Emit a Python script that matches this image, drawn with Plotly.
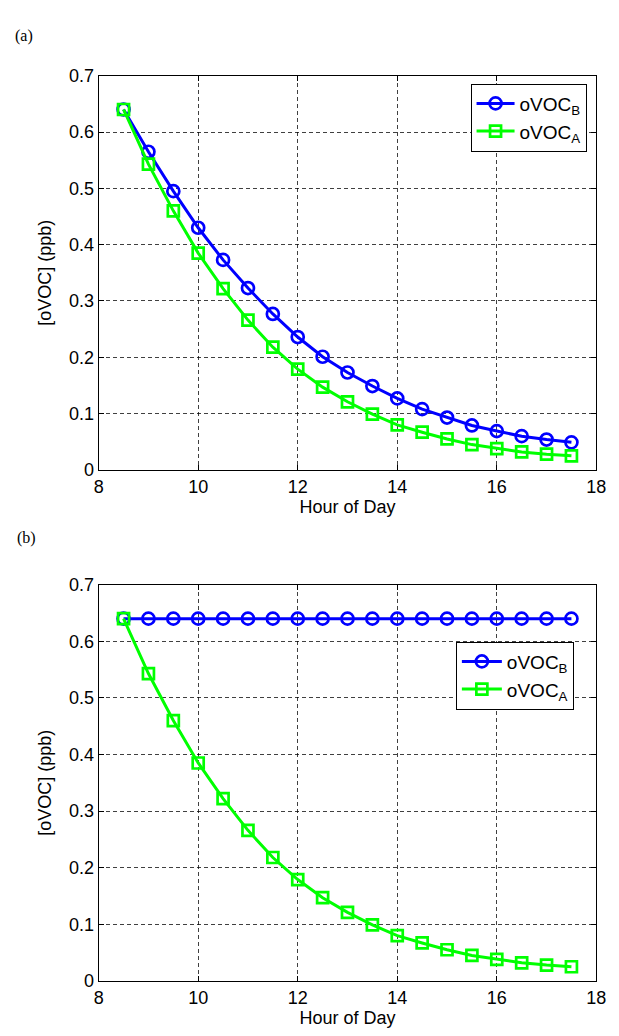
import plotly.graph_objects as go

hours = [8.5, 9, 9.5, 10, 10.5, 11, 11.5, 12, 12.5, 13, 13.5, 14, 14.5, 15, 15.5, 16, 16.5, 17, 17.5]

# Panel (a)
a_ovoc_b = [0.640, 0.565, 0.495, 0.430, 0.373, 0.323, 0.277, 0.236, 0.201, 0.173,
            0.149, 0.127, 0.108, 0.093, 0.079, 0.069, 0.060, 0.054, 0.049]
a_ovoc_a = [0.640, 0.543, 0.460, 0.385, 0.322, 0.266, 0.218, 0.179, 0.147, 0.121,
            0.099, 0.080, 0.067, 0.055, 0.045, 0.038, 0.032, 0.028, 0.025]

# Panel (b)
b_ovoc_b = [0.640] * 19
b_ovoc_a = [0.640, 0.543, 0.460, 0.385, 0.322, 0.266, 0.218, 0.179, 0.147, 0.121,
            0.099, 0.080, 0.067, 0.055, 0.045, 0.038, 0.032, 0.028, 0.025]

x_ticks = [8, 10, 12, 14, 16, 18]
y_ticks = [0, 0.1, 0.2, 0.3, 0.4, 0.5, 0.6, 0.7]
y_tick_labels = ["0", "0.1", "0.2", "0.3", "0.4", "0.5", "0.6", "0.7"]

W, H = 619, 1036
BLUE = "#0000FF"
GREEN = "#00FF00"
FONT = "Liberation Sans, Arial, sans-serif"


def py(px):
    return 1 - px / H


fig = go.Figure()

def add_pair(yb, ya, xa, ya_ax, legend):
    fig.add_trace(go.Scatter(
        x=hours, y=yb, xaxis=xa, yaxis=ya_ax, mode="lines+markers",
        name="oVOC<sub>B</sub>", legend=legend,
        line=dict(color=BLUE, width=3),
        marker=dict(symbol="circle-open", size=12, color=BLUE, line=dict(width=2.7, color=BLUE)),
    ))
    fig.add_trace(go.Scatter(
        x=hours, y=ya, xaxis=xa, yaxis=ya_ax, mode="lines+markers",
        name="oVOC<sub>A</sub>", legend=legend,
        line=dict(color=GREEN, width=3),
        marker=dict(symbol="square-open", size=11, color=GREEN, line=dict(width=2.7, color=GREEN)),
    ))

add_pair(a_ovoc_b, a_ovoc_a, "x", "y", "legend")
add_pair(b_ovoc_b, b_ovoc_a, "x2", "y2", "legend2")

x_dom = [96 / W, 606 / W]
axis_common = dict(
    showline=True, linecolor="black", linewidth=1.2, mirror="ticks",
    ticks="inside", ticklen=5, tickcolor="black",
    showgrid=True, gridcolor="rgba(0,0,0,0.75)", gridwidth=1, griddash="4px,3px",
    zeroline=False, tickfont=dict(family=FONT, size=18, color="black"),
)

xax = dict(axis_common, range=[8, 18], tickvals=x_ticks, domain=x_dom,
           title=dict(text="Hour of Day", font=dict(family=FONT, size=18, color="black"), standoff=0))
yax_t = dict(axis_common, range=[0, 0.7], tickvals=y_ticks, ticktext=y_tick_labels,
             title=dict(text="[oVOC] (ppb)", font=dict(family=FONT, size=18, color="black"), standoff=12))

fig.update_layout(
    width=W, height=H,
    margin=dict(l=0, r=0, t=0, b=0),
    paper_bgcolor="white", plot_bgcolor="white",
    xaxis=dict(xax, anchor="y"),
    yaxis=dict(yax_t, anchor="x", domain=[py(469), py(67)]),
    xaxis2=dict(xax, anchor="y2"),
    yaxis2=dict(yax_t, anchor="x2", domain=[py(990), py(586)]),
    legend=dict(x=596 / W, y=py(75), xanchor="right", yanchor="top",
                bgcolor="white", bordercolor="black", borderwidth=1,
                font=dict(family=FONT, size=19, color="black"),
                itemwidth=38, tracegroupgap=0),
    legend2=dict(x=583 / W, y=py(644), xanchor="right", yanchor="top",
                 bgcolor="white", bordercolor="black", borderwidth=1,
                 font=dict(family=FONT, size=19, color="black"),
                 itemwidth=40, tracegroupgap=0),
    showlegend=True,
    annotations=[
        dict(text="(a)", x=8 / W, y=py(27), xref="paper", yref="paper",
             xanchor="left", yanchor="middle", showarrow=False,
             font=dict(family="Liberation Serif, Times New Roman, serif", size=16, color="black")),
        dict(text="(b)", x=10 / W, y=py(538), xref="paper", yref="paper",
             xanchor="left", yanchor="middle", showarrow=False,
             font=dict(family="Liberation Serif, Times New Roman, serif", size=16, color="black")),
    ],
)

fig.write_html(
    "out.html",
    config={"displayModeBar": False},
    post_script="document.body.style.margin='0';document.body.style.padding='0';"
                "document.documentElement.style.overflow='hidden';",
)
